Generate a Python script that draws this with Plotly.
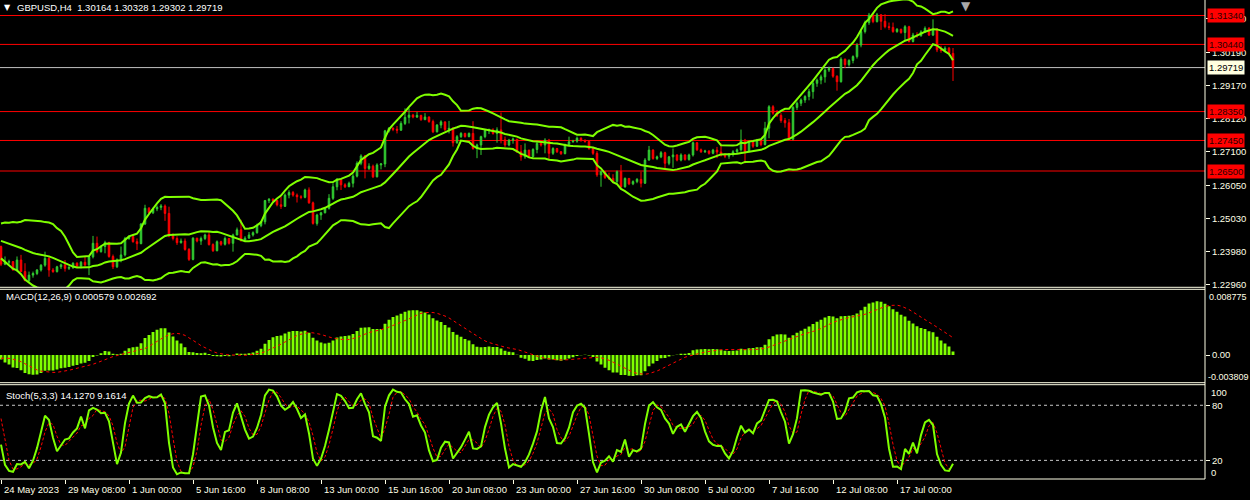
import numpy as np
import pandas as pd
import plotly.graph_objects as go

# ---------------- data (GBPUSD H4) ----------------
# warm-up closes before the first visible bar (needed by BB / MACD)
warm_close = [1.2505, 1.2495, 1.2510, 1.2500, 1.2485, 1.2470, 1.2480, 1.2475, 1.2460, 1.2465,
              1.2450, 1.2440, 1.2455, 1.2470, 1.2465, 1.2440, 1.2425, 1.2410, 1.2395, 1.2410,
              1.2405, 1.2420, 1.2440, 1.2455, 1.2450, 1.2440, 1.2445, 1.2460, 1.2450, 1.2440,
              1.2430, 1.2425, 1.2435, 1.2420, 1.2410, 1.2405, 1.2415, 1.2400, 1.2430, 1.2465,
              1.2440, 1.2470, 1.2475, 1.2460, 1.2415]
warm_high_tail = [1.2420, 1.2436, 1.2470, 1.2468, 1.2476, 1.2480, 1.2478, 1.2462]
warm_low_tail = [1.2395, 1.2395, 1.2428, 1.2380, 1.2438, 1.2462, 1.2452, 1.2410]

close = [
    1.2360, 1.2366, 1.2368, 1.2342, 1.2373, 1.2337, 1.2309, 1.2326, 1.2331, 1.2342,
    1.2357, 1.2378, 1.2342, 1.2337, 1.2352, 1.2358, 1.2347, 1.2350, 1.2363, 1.2354,
    1.2366, 1.2358, 1.2383, 1.2425, 1.2399, 1.2415, 1.2427, 1.2384, 1.2352, 1.2373,
    1.2389, 1.2440, 1.2446, 1.2430, 1.2424, 1.2485, 1.2534, 1.2520, 1.2532, 1.2537,
    1.2541, 1.2518, 1.2448, 1.2440, 1.2427, 1.2432, 1.2406, 1.2375, 1.2441, 1.2432,
    1.2440, 1.2451, 1.2421, 1.2402, 1.2430, 1.2422, 1.2440, 1.2425, 1.2451, 1.2467,
    1.2435, 1.2441, 1.2451, 1.2458, 1.2480, 1.2492, 1.2558, 1.2562, 1.2558, 1.2545,
    1.2540, 1.2575, 1.2583, 1.2575, 1.2570, 1.2568, 1.2591, 1.2551, 1.2487, 1.2513,
    1.2520, 1.2534, 1.2565, 1.2601, 1.2624, 1.2607, 1.2601, 1.2612, 1.2634, 1.2674,
    1.2697, 1.2658, 1.2665, 1.2632, 1.2669, 1.2672, 1.2775, 1.2783, 1.2780, 1.2777,
    1.2798, 1.2817, 1.2824, 1.2818, 1.2823, 1.2810, 1.2818, 1.2804, 1.2772, 1.2793,
    1.2803, 1.2779, 1.2783, 1.2738, 1.2757, 1.2767, 1.2757, 1.2767, 1.2720, 1.2731,
    1.2757, 1.2776, 1.2778, 1.2767, 1.2778, 1.2747, 1.2731, 1.2746, 1.2749, 1.2710,
    1.2694, 1.2715, 1.2695, 1.2717, 1.2736, 1.2731, 1.2746, 1.2705, 1.2720, 1.2710,
    1.2704, 1.2731, 1.2741, 1.2743, 1.2752, 1.2745, 1.2742, 1.2720, 1.2705, 1.2638,
    1.2648, 1.2630, 1.2627, 1.2617, 1.2648, 1.2601, 1.2627, 1.2610, 1.2617, 1.2624,
    1.2612, 1.2684, 1.2715, 1.2689, 1.2694, 1.2707, 1.2674, 1.2694, 1.2700, 1.2684,
    1.2700, 1.2686, 1.2700, 1.2738, 1.2716, 1.2710, 1.2712, 1.2705, 1.2715, 1.2709,
    1.2700, 1.2696, 1.2703, 1.2710, 1.2716, 1.2746, 1.2711, 1.2740, 1.2727, 1.2745,
    1.2732, 1.2783, 1.2850, 1.2830, 1.2823, 1.2807, 1.2800, 1.2749, 1.2848, 1.2861,
    1.2871, 1.2882, 1.2897, 1.2923, 1.2933, 1.2943, 1.2964, 1.2969, 1.2945, 1.2928,
    1.2998, 1.2981, 1.2994, 1.3006, 1.3042, 1.3084, 1.3112, 1.3135, 1.3115, 1.3136,
    1.3116, 1.3099, 1.3097, 1.3084, 1.3091, 1.3081, 1.3099, 1.3053, 1.3073, 1.3071,
    1.3083, 1.3094, 1.3073, 1.3091, 1.3027, 1.3025, 1.3032, 1.3016, 1.29719]

high = [
    1.2418, 1.2384, 1.2374, 1.2370, 1.2384, 1.2389, 1.2363, 1.2337, 1.2337, 1.2345,
    1.2360, 1.2399, 1.2385, 1.2348, 1.2355, 1.2362, 1.2373, 1.2354, 1.2366, 1.2366,
    1.2370, 1.2383, 1.2386, 1.2448, 1.2446, 1.2418, 1.2433, 1.2430, 1.2390, 1.2378,
    1.2415, 1.2445, 1.2450, 1.2446, 1.2440, 1.2488, 1.2545, 1.2538, 1.2536, 1.2543,
    1.2547, 1.2546, 1.2539, 1.2456, 1.2447, 1.2440, 1.2440, 1.2410, 1.2444, 1.2442,
    1.2446, 1.2455, 1.2462, 1.2425, 1.2434, 1.2433, 1.2446, 1.2440, 1.2455, 1.2474,
    1.2498, 1.2447, 1.2460, 1.2462, 1.2486, 1.2495, 1.2560, 1.2566, 1.2565, 1.2560,
    1.2570, 1.2580, 1.2590, 1.2588, 1.2580, 1.2575, 1.2595, 1.2599, 1.2555, 1.2517,
    1.2523, 1.2538, 1.2578, 1.2612, 1.2628, 1.2628, 1.2612, 1.2617, 1.2640, 1.2680,
    1.2702, 1.2700, 1.2674, 1.2670, 1.2674, 1.2675, 1.2778, 1.2787, 1.2786, 1.2790,
    1.2805, 1.2845, 1.2845, 1.2828, 1.2834, 1.2825, 1.2830, 1.2820, 1.2810, 1.2796,
    1.2808, 1.2803, 1.2806, 1.2787, 1.2762, 1.2771, 1.2769, 1.2770, 1.2805, 1.2735,
    1.2760, 1.2780, 1.2782, 1.2783, 1.2786, 1.2832, 1.2757, 1.2750, 1.2754, 1.2750,
    1.2731, 1.2736, 1.2716, 1.2721, 1.2740, 1.2740, 1.2752, 1.2750, 1.2724, 1.2722,
    1.2712, 1.2735, 1.2757, 1.2747, 1.2757, 1.2755, 1.2749, 1.2746, 1.2725, 1.2712,
    1.2651, 1.2650, 1.2645, 1.2640, 1.2652, 1.2669, 1.2630, 1.2628, 1.2621, 1.2628,
    1.2648, 1.2690, 1.2728, 1.2718, 1.2698, 1.2712, 1.2710, 1.2697, 1.2720, 1.2702,
    1.2705, 1.2702, 1.2704, 1.2742, 1.2740, 1.2720, 1.2716, 1.2715, 1.2719, 1.2725,
    1.2736, 1.2705, 1.2706, 1.2715, 1.2720, 1.2779, 1.2750, 1.2745, 1.2745, 1.2750,
    1.2748, 1.2803, 1.2855, 1.2855, 1.2840, 1.2830, 1.2815, 1.2812, 1.2852, 1.2866,
    1.2876, 1.2886, 1.2906, 1.2934, 1.2938, 1.2950, 1.2970, 1.2975, 1.2972, 1.2948,
    1.3004, 1.3000, 1.2998, 1.3010, 1.3048, 1.3090, 1.3118, 1.3142, 1.3137, 1.3142,
    1.3138, 1.3138, 1.3112, 1.3112, 1.3095, 1.3093, 1.3104, 1.3102, 1.3080, 1.3082,
    1.3088, 1.3100, 1.3098, 1.3122, 1.3095, 1.3040, 1.3038, 1.3036, 1.30328]

low = [
    1.2354, 1.2357, 1.2360, 1.2340, 1.2337, 1.2335, 1.2307, 1.2305, 1.2318, 1.2326,
    1.2337, 1.2352, 1.2321, 1.2333, 1.2334, 1.2345, 1.2337, 1.2342, 1.2345, 1.2350,
    1.2347, 1.2352, 1.2326, 1.2378, 1.2394, 1.2396, 1.2394, 1.2380, 1.2345, 1.2348,
    1.2366, 1.2384, 1.2436, 1.2427, 1.2404, 1.2422, 1.2482, 1.2517, 1.2516, 1.2525,
    1.2528, 1.2495, 1.2444, 1.2434, 1.2420, 1.2424, 1.2402, 1.2370, 1.2372, 1.2428,
    1.2420, 1.2435, 1.2418, 1.2398, 1.2400, 1.2417, 1.2418, 1.2421, 1.2399, 1.2450,
    1.2430, 1.2432, 1.2440, 1.2446, 1.2455, 1.2475, 1.2484, 1.2550, 1.2552, 1.2540,
    1.2532, 1.2538, 1.2565, 1.2570, 1.2552, 1.2562, 1.2565, 1.2548, 1.2483, 1.2480,
    1.2498, 1.2518, 1.2530, 1.2560, 1.2590, 1.2591, 1.2597, 1.2600, 1.2599, 1.2630,
    1.2668, 1.2627, 1.2653, 1.2628, 1.2630, 1.2655, 1.2662, 1.2770, 1.2774, 1.2767,
    1.2775, 1.2793, 1.2798, 1.2814, 1.2815, 1.2806, 1.2808, 1.2800, 1.2768, 1.2770,
    1.2783, 1.2774, 1.2767, 1.2726, 1.2735, 1.2753, 1.2754, 1.2755, 1.2716, 1.2690,
    1.2700, 1.2752, 1.2765, 1.2763, 1.2738, 1.2736, 1.2725, 1.2727, 1.2735, 1.2706,
    1.2682, 1.2688, 1.2690, 1.2692, 1.2705, 1.2726, 1.2705, 1.2686, 1.2700, 1.2706,
    1.2700, 1.2702, 1.2728, 1.2738, 1.2738, 1.2741, 1.2738, 1.2716, 1.2700, 1.2632,
    1.2601, 1.2625, 1.2622, 1.2612, 1.2612, 1.2595, 1.2598, 1.2606, 1.2606, 1.2612,
    1.2599, 1.2610, 1.2682, 1.2685, 1.2684, 1.2690, 1.2658, 1.2668, 1.2660, 1.2680,
    1.2680, 1.2682, 1.2682, 1.2695, 1.2712, 1.2706, 1.2706, 1.2701, 1.2702, 1.2690,
    1.2695, 1.2690, 1.2688, 1.2695, 1.2705, 1.2710, 1.2674, 1.2708, 1.2722, 1.2725,
    1.2727, 1.2730, 1.2752, 1.2825, 1.2818, 1.2800, 1.2785, 1.2745, 1.2745, 1.2840,
    1.2852, 1.2862, 1.2870, 1.2875, 1.2912, 1.2920, 1.2925, 1.2958, 1.2940, 1.2900,
    1.2925, 1.2970, 1.2975, 1.2985, 1.3000, 1.3035, 1.3078, 1.3105, 1.3110, 1.3112,
    1.3089, 1.3094, 1.3089, 1.3080, 1.3080, 1.3077, 1.3058, 1.3050, 1.3050, 1.3065,
    1.3068, 1.3080, 1.3070, 1.3070, 1.3020, 1.3018, 1.3020, 1.3010, 1.29302]

date_ticks = [0, 16, 32, 48, 64, 80, 96, 112, 128, 144, 160, 176, 192, 208, 224]
date_labels = ["24 May 2023", "29 May 08:00", "1 Jun 00:00", "5 Jun 16:00", "8 Jun 08:00",
               "13 Jun 00:00", "15 Jun 16:00", "20 Jun 08:00", "23 Jun 00:00", "27 Jun 16:00",
               "30 Jun 08:00", "5 Jul 00:00", "7 Jul 16:00", "12 Jul 08:00", "17 Jul 00:00"]
price_ticks = [1.31240, 1.30190, 1.29170, 1.28120, 1.27100, 1.26050, 1.25030, 1.23980, 1.22960]
level_prices = [1.31340, 1.30440, 1.28350, 1.27450, 1.26500]
bid_price = 1.29719
header_text = "GBPUSD,H4  1.30164 1.30328 1.29302 1.29719"
macd_text = "MACD(12,26,9) 0.000579 0.002692"
stoch_text = "Stoch(5,3,3) 14.1270 9.1614"
macd_scale_labels = ["0.008775", "0.00", "-0.003809"]
stoch_levels = [80, 20]

# ---------------- indicators ----------------
nw = len(warm_close)
c_all = pd.Series(warm_close + close, dtype=float)
pad = [np.nan] * (nw - len(warm_high_tail))
h_all = pd.Series(pad + warm_high_tail + high, dtype=float)
l_all = pd.Series(pad + warm_low_tail + low, dtype=float)
o_all = c_all.shift(1)
o_all.iloc[0] = c_all.iloc[0]

mid = c_all.rolling(20).mean()
sd = c_all.rolling(20).std(ddof=0)
upper = mid + 2 * sd
lower = mid - 2 * sd

ema12 = c_all.ewm(span=12, adjust=False).mean()
ema26 = c_all.ewm(span=26, adjust=False).mean()
macd = ema12 - ema26
signal = macd.rolling(9).mean()

ll = l_all.rolling(5).min()
hh = h_all.rolling(5).max()
k = 100 * (c_all - ll).rolling(3).sum() / (hh - ll).rolling(3).sum()
d = k.rolling(3).mean()

x = np.arange(len(close))
v = slice(nw, None)

CREAM = "#FFFFE6"
LIME = "#7FFF00"
FONT = "Liberation Sans"
FS = 9.5

fig = go.Figure()
fig.add_trace(go.Candlestick(
    x=x, open=o_all[v].values, high=h_all[v].values, low=l_all[v].values, close=c_all[v].values,
    increasing=dict(line=dict(color="#32CD32", width=1), fillcolor="#32CD32"),
    decreasing=dict(line=dict(color="#FF0000", width=1), fillcolor="#FF0000"),
    whiskerwidth=0, xaxis="x", yaxis="y", hoverinfo="skip"))
for band in (upper, mid, lower):
    fig.add_trace(go.Scatter(x=x, y=band[v].values, mode="lines",
                             line=dict(color=LIME, width=2), xaxis="x", yaxis="y", hoverinfo="skip"))

fig.add_trace(go.Bar(x=x, y=macd[v].values, marker=dict(color=LIME, line=dict(width=0)),
                     width=0.72, xaxis="x", yaxis="y2", hoverinfo="skip"))
fig.add_trace(go.Scatter(x=x, y=signal[v].values, mode="lines",
                         line=dict(color="#FF0000", width=1, dash="3px,3px"),
                         xaxis="x", yaxis="y2", hoverinfo="skip"))

fig.add_trace(go.Scatter(x=x, y=d[v].values, mode="lines",
                         line=dict(color="#FF0000", width=1, dash="3px,2px"),
                         xaxis="x", yaxis="y3", hoverinfo="skip"))
fig.add_trace(go.Scatter(x=x, y=k[v].values, mode="lines",
                         line=dict(color=LIME, width=2), xaxis="x", yaxis="y3", hoverinfo="skip"))

# ---------------- layout ----------------
PH = 479.0  # plot-area height in px
def fy(py):  # page y (px from top) -> paper fraction
    return (PH - py) / PH

main_dom = [fy(287.3), 1.0]
macd_dom = [fy(382.7), fy(289.3)]
stoch_dom = [0.0, fy(384.7)]

axis_common = dict(showgrid=False, zeroline=False, fixedrange=True, side="right", anchor="x",
                   ticks="outside", ticklen=4, tickcolor=CREAM,
                   tickfont=dict(family=FONT, size=FS, color=CREAM))

shapes = []
for lv in level_prices:
    shapes.append(dict(type="line", xref="paper", x0=0, x1=1, yref="y", y0=lv, y1=lv,
                       line=dict(color="#FF0000", width=1), layer="below"))
shapes.append(dict(type="line", xref="paper", x0=0, x1=1, yref="y", y0=bid_price, y1=bid_price,
                   line=dict(color="#C0C0C0", width=1), layer="below"))
for lv in stoch_levels:
    shapes.append(dict(type="line", xref="paper", x0=0, x1=1, yref="y3", y0=lv, y1=lv,
                       line=dict(color="#C8C8C8", width=1, dash="3px,3px"), layer="below"))
for fr in (main_dom[0], macd_dom[1], macd_dom[0], stoch_dom[1], 0.0):
    shapes.append(dict(type="line", xref="paper", x0=0, x1=1, yref="paper", y0=fr, y1=fr,
                       line=dict(color=CREAM, width=1)))
shapes.append(dict(type="line", xref="paper", x0=1, x1=1, yref="paper", y0=0, y1=1,
                   line=dict(color=CREAM, width=1)))

ann = []
ann.append(dict(text="▼", x=0.002, y=fy(8), xref="paper", yref="paper", xanchor="left",
                yanchor="middle", showarrow=False, font=dict(family="DejaVu Sans", size=8, color="#FFFFFF")))
ann.append(dict(text=header_text, x=15 / 1205, y=fy(8), xref="paper", yref="paper", xanchor="left",
                yanchor="middle", showarrow=False, font=dict(family=FONT, size=FS, color="#FFFFFF")))
ann.append(dict(text="▼", x=966 / 1205, y=fy(6), xref="paper", yref="paper", xanchor="center",
                yanchor="middle", showarrow=False, font=dict(family="DejaVu Sans", size=12, color="#A8A8A8")))
ann.append(dict(text=macd_text, x=4 / 1205, y=fy(297), xref="paper", yref="paper", xanchor="left",
                yanchor="middle", showarrow=False, font=dict(family=FONT, size=FS, color="#FFFFFF")))
ann.append(dict(text=stoch_text, x=4 / 1205, y=fy(395), xref="paper", yref="paper", xanchor="left",
                yanchor="middle", showarrow=False, font=dict(family=FONT, size=FS, color="#FFFFFF")))
for t, lab in zip(date_ticks, date_labels):
    ann.append(dict(text=lab, x=t, y=fy(489), xref="x", yref="paper", xanchor="left", xshift=1,
                    yanchor="middle", showarrow=False, font=dict(family=FONT, size=FS, color=CREAM)))
for lv in level_prices:
    ann.append(dict(text=f"{lv:.5f}", x=1, y=lv, xref="paper", yref="y", xanchor="left", xshift=2,
                    yanchor="middle", showarrow=False, bgcolor="#FF0000", borderpad=1,
                    font=dict(family=FONT, size=FS, color="#2A0000")))
ann.append(dict(text=f"{bid_price:.5f}", x=1, y=bid_price, xref="paper", yref="y", xanchor="left", xshift=2,
                yanchor="middle", showarrow=False, bgcolor="#FFFFE0", borderpad=1,
                font=dict(family=FONT, size=FS, color="#000000")))
ann.append(dict(text=macd_scale_labels[0], x=1, y=fy(296.7), xref="paper", yref="paper", xanchor="left",
                xshift=2, yanchor="middle", showarrow=False, font=dict(family=FONT, size=9, color=CREAM)))
ann.append(dict(text=macd_scale_labels[2], x=1, y=fy(376.7), xref="paper", yref="paper", xanchor="left",
                xshift=1, yanchor="middle", showarrow=False, font=dict(family=FONT, size=9, color=CREAM)))
ann.append(dict(text="100", x=1, y=fy(392.3), xref="paper", yref="paper", xanchor="left",
                xshift=4, yanchor="middle", showarrow=False, font=dict(family=FONT, size=FS, color=CREAM)))
ann.append(dict(text="0", x=1, y=fy(472.3), xref="paper", yref="paper", xanchor="left",
                xshift=4, yanchor="middle", showarrow=False, font=dict(family=FONT, size=FS, color=CREAM)))

fig.update_layout(
    width=1250, height=500, margin=dict(l=0, r=45, t=0, b=21),
    paper_bgcolor="#000000", plot_bgcolor="#000000", showlegend=False,
    boxgap=0.45, bargap=0.25,
    xaxis=dict(range=[-0.25, 301], anchor="y3", showgrid=False, zeroline=False, fixedrange=True,
               rangeslider=dict(visible=False), showticklabels=False,
               tickvals=date_ticks, ticks="outside", ticklen=4, tickcolor=CREAM),
    yaxis=dict(domain=main_dom, range=[1.22881, 1.31822],
               tickvals=price_ticks, ticktext=[f"{p:.5f}" for p in price_ticks], **axis_common),
    yaxis2=dict(domain=macd_dom, range=[-0.004197, 0.009955],
                tickvals=[0], ticktext=[macd_scale_labels[1]], **axis_common),
    yaxis3=dict(domain=stoch_dom, range=[-0.3, 102.4],
                tickvals=stoch_levels, ticktext=[str(s) for s in stoch_levels], **axis_common),
    shapes=shapes, annotations=ann,
)

fig.write_html("out.html", config={"displayModeBar": False, "staticPlot": True})
# remove the browser's default page margin so the figure fills the window exactly
with open("out.html", "r", encoding="utf-8") as fh:
    page = fh.read()
page = page.replace("<head>", "<head><style>html,body{margin:0;padding:0;background:#000;overflow:hidden;}</style>", 1)
with open("out.html", "w", encoding="utf-8") as fh:
    fh.write(page)
